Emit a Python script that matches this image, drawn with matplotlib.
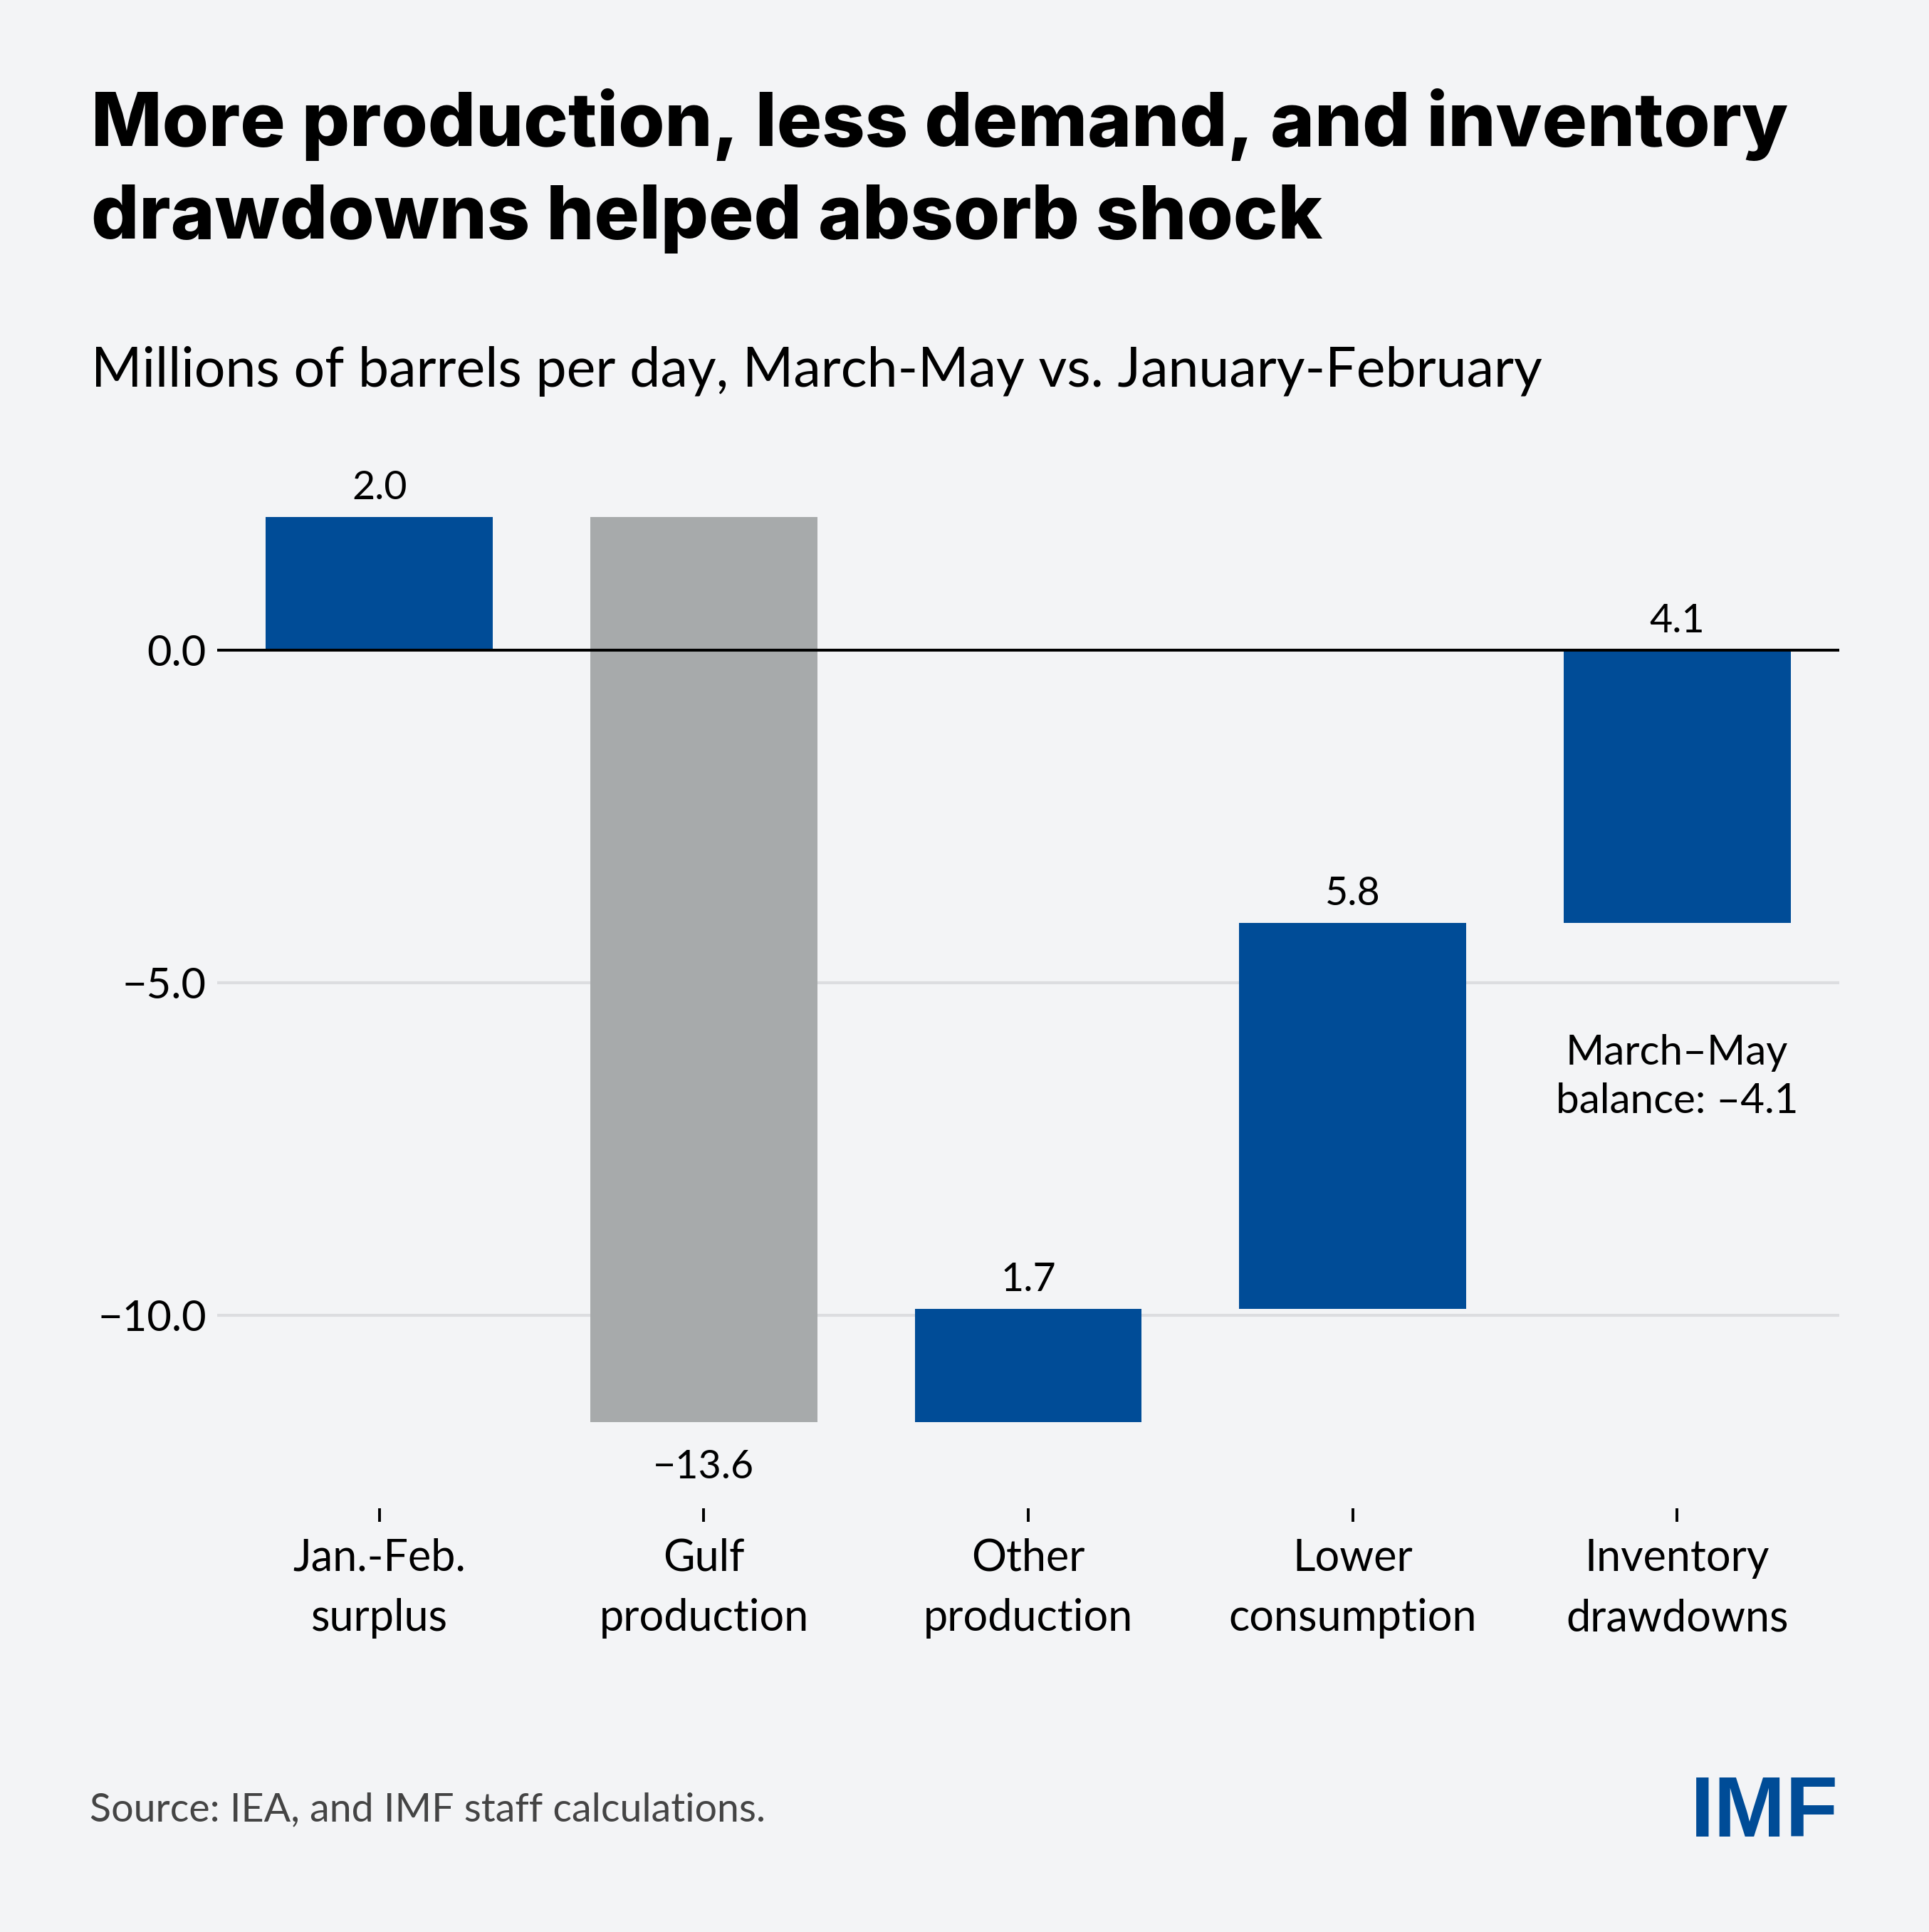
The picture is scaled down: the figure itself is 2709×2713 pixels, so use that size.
import matplotlib
matplotlib.use("Agg")
import matplotlib.pyplot as plt
import numpy as np

# ---- data ----
categories = ["Jan.-Feb.\nsurplus", "Gulf\nproduction", "Other\nproduction",
              "Lower\nconsumption", "Inventory\ndrawdowns"]
changes = [2.0, -13.6, 1.7, 5.8, 4.1]
value_labels = ["2.0", "\u221213.6", "1.7", "5.8", "4.1"]
bar_kind = ["blue", "gray", "blue", "blue", "blue"]
yticks = [-10, -5, 0]
ytick_labels = ["\u221210.0", "\u22125.0", "0.0"]
balance_note = "March\u2013May\nbalance: \u20134.1"
balance_value = -4.1

title_lines = ["More production, less demand, and inventory",
               "drawdowns helped absorb shock"]
subtitle = "Millions of barrels per day, March-May vs. January-February"
source = "Source: IEA, and IMF staff calculations."

BG = "#f3f4f6"
BLUE = "#004c97"
GRAY = "#a7aaab"
GRID = "#dcdde0"
colors = {"blue": BLUE, "gray": GRAY}

plt.rcParams["font.family"] = ["Lato", "DejaVu Sans"]

W, H = 2709, 2713
fig = plt.figure(figsize=(W / 100, H / 100), dpi=100, facecolor=BG)

ax = fig.add_axes([305 / W, 1 - 2118 / H, (2583 - 305) / W, (2118 - 679.5) / H])
ax.set_facecolor(BG)

x = np.arange(len(changes))
starts = np.concatenate([[0.0], np.cumsum(changes)[:-1]])
ends = starts + np.array(changes)

ax.bar(x, changes, bottom=starts, width=0.7,
       color=[colors[k] for k in bar_kind], zorder=2, linewidth=0)

for xi, s, e, v, lab in zip(x, starts, ends, changes, value_labels):
    if v >= 0:
        ax.annotate(lab, (xi, e), xytext=(0, 29), textcoords="offset points",
                    ha="center", va="center", fontsize=40, color="black")
    else:
        ax.annotate(lab, (xi, e), xytext=(0, -46), textcoords="offset points",
                    ha="center", va="center", fontsize=40, color="black")

# balance note
ax.text(x[-1], balance_value - 2.32, balance_note, ha="center", va="center",
        fontsize=42, color="black", linespacing=1.35)

ax.set_xlim(-0.5, 4.5)
ax.set_ylim(-12.9, 2.5)

for yv in yticks:
    if yv == 0:
        ax.axhline(0, color="black", lw=2.9, zorder=3)
    else:
        ax.axhline(yv, color=GRID, lw=3, zorder=1)

ax.set_yticks(yticks)
ax.set_yticklabels(ytick_labels)
ax.tick_params(axis="y", length=0, pad=11, labelsize=43, colors="black")

ax.set_xticks(x)
ax.set_xticklabels(categories, linespacing=1.6)
ax.tick_params(axis="x", direction="out", length=14, width=2.8, pad=16,
               labelsize=44, colors="black")

for sp in ax.spines.values():
    sp.set_visible(False)

# titles
tfont = dict(fontsize=76, fontweight="heavy", family=["Inter", "Lato", "DejaVu Sans"])
fig.text(128 / W, 1 - 205 / H, title_lines[0], ha="left", va="baseline",
         color="black", **tfont)
fig.text(128 / W, 1 - 335 / H, title_lines[1], ha="left", va="baseline",
         color="black", **tfont)
fig.text(128 / W, 1 - 543 / H, subtitle, fontsize=55.5, ha="left",
         va="baseline", color="black")

fig.text(126 / W, 1 - 2557 / H, source, fontsize=40, ha="left",
         va="baseline", color="#444444")
fig.text(2582 / W, 1 - 2579 / H, "IMF", fontsize=87, fontweight="bold",
         family="Liberation Sans", ha="right", va="baseline", color=BLUE)

fig.savefig("out.png", dpi=100, facecolor=BG)
